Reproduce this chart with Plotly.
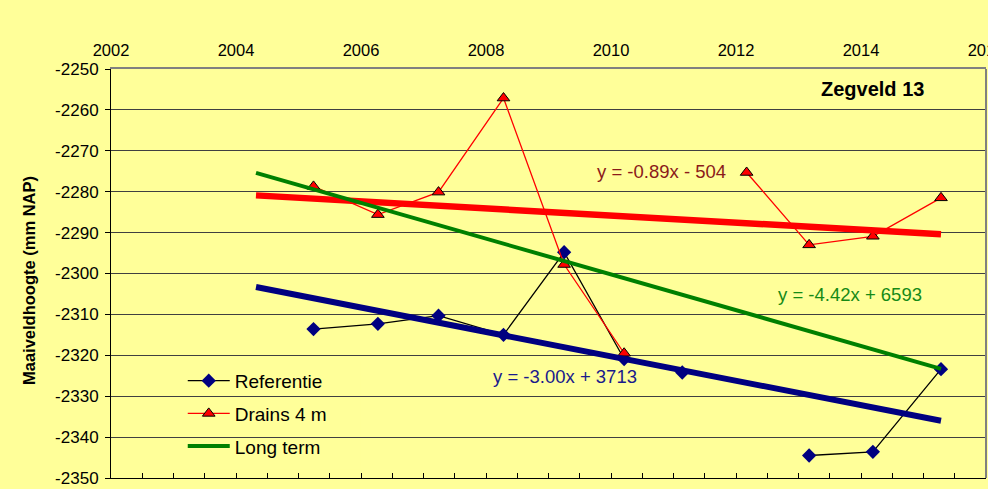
import plotly.graph_objects as go

# ---- data ----
years = [2005.24, 2006.27, 2007.24, 2008.28, 2009.25, 2010.21, 2011.14, 2012.17, 2013.17, 2014.19, 2015.28]
referentie = [-2313.6, -2312.3, -2310.3, -2315.0, -2294.8, -2320.9, -2324.2, None, -2344.5, -2343.6, -2323.4]
drains = [-2278.7, -2285.6, -2280.1, -2257.1, -2297.8, -2319.5, None, -2275.3, -2293.0, -2290.9, -2281.5]

trend_x = [2004.32, 2015.28]
ref_trend = [-2303.3, -2336.0]
drains_trend = [-2280.9, -2290.4]
long_term = [-2275.4, -2323.3]

y_ticks = [-2350, -2340, -2330, -2320, -2310, -2300, -2290, -2280, -2270, -2260, -2250]
y_ticklabels = ["-2350", "-2340", "-2330", "-2320", "-2310", "-2300", "-2290", "-2280", "-2270", "-2260", "-2250"]
x_ticks = [2002, 2004, 2006, 2008, 2010, 2012, 2014, 2016]
x_ticklabels = ["2002", "2004", "2006", "2008", "2010", "2012", "2014", "2016"]

eq_drains = "y = -0.89x - 504"
eq_long = "y = -4.42x + 6593"
eq_ref = "y = -3.00x + 3713"
title_text = "Zegveld 13"
y_title = "Maaiveldhoogte (mm NAP)"

BG = "#FFFF99"
FONT = "Arial, Liberation Sans, sans-serif"

fig = go.Figure()

fig.add_trace(go.Scatter(x=trend_x, y=ref_trend, mode="lines", xaxis="x2",
                         line=dict(color="#000080", width=6), showlegend=False))
fig.add_trace(go.Scatter(x=trend_x, y=drains_trend, mode="lines", xaxis="x2",
                         line=dict(color="#FF0000", width=6.5), showlegend=False))
fig.add_trace(go.Scatter(x=years, y=referentie, mode="lines+markers", name="Referentie",
                         legendgroup="a", legendrank=1,
                         line=dict(color="black", width=1.3),
                         marker=dict(symbol="diamond", size=11, color="#000080",
                                     line=dict(width=0))))
fig.add_trace(go.Scatter(x=years, y=drains, mode="lines+markers", name="Drains 4 m",
                         legendgroup="b", legendrank=2,
                         line=dict(color="#FF0000", width=1.3),
                         marker=dict(symbol="triangle-up", size=11, color="#FF0000",
                                     line=dict(width=1, color="black"))))
fig.add_trace(go.Scatter(x=trend_x, y=long_term, mode="lines", name="Long term", xaxis="x2",
                         legendgroup="c", legendrank=3,
                         line=dict(color="#008000", width=4)))

annotations = [
    dict(x=2014.19, y=-2254.9, text="<b>" + title_text + "</b>", showarrow=False,
         font=dict(size=20, color="black", family=FONT), xref="x", yref="y"),
    dict(x=2010.8, y=-2275.0, text=eq_drains, showarrow=False,
         font=dict(size=18.5, color="#8B1A1A", family=FONT), xref="x", yref="y"),
    dict(x=2013.82, y=-2305.2, text=eq_long, showarrow=False,
         font=dict(size=18.5, color="#168A16", family=FONT), xref="x", yref="y"),
    dict(x=2009.26, y=-2325.3, text=eq_ref, showarrow=False,
         font=dict(size=18.5, color="#1A1A8C", family=FONT), xref="x", yref="y"),
    dict(x=-0.0937, y=0.4817, xref="paper", yref="paper", text="<b>" + y_title + "</b>",
         xanchor="center", yanchor="middle",
         textangle=-90, showarrow=False, font=dict(size=16.5, color="black", family=FONT)),
]

fig.update_layout(
    width=988, height=489,
    margin=dict(l=111, r=2, t=69, b=11, autoexpand=False),
    paper_bgcolor=BG, plot_bgcolor=BG,
    font=dict(family=FONT, color="black", size=16),
    xaxis=dict(range=[2002, 2016], showgrid=False, zeroline=False, automargin=False,
               showline=True, linecolor="black", linewidth=1,
               ticks="inside", tick0=2002, dtick=0.5, ticklen=5, tickcolor="black",
               showticklabels=False),
    xaxis2=dict(range=[2002, 2016], overlaying="x", side="top", anchor="y", automargin=False,
                showgrid=False, zeroline=False, showline=True, linecolor="#808080",
                linewidth=2, ticks="", tickmode="array", tickvals=x_ticks, ticktext=x_ticklabels,
                tickfont=dict(size=16.5, family=FONT, color="black"),
                ticklabelstandoff=4, ticklabeloverflow="allow"),
    yaxis=dict(range=[-2350, -2250], tickmode="array", tickvals=y_ticks, ticktext=y_ticklabels,
               showgrid=True, gridcolor="#404040", automargin=False,
               gridwidth=1, zeroline=False, showline=True, linecolor="black", linewidth=1,
               ticks="outside", ticklen=5, tickcolor="black", ticklabelstandoff=3,
               tickfont=dict(size=17, family=FONT, color="black")),
    legend=dict(x=0.082, y=0.284, xanchor="left", yanchor="top",
                bgcolor="rgba(0,0,0,0)", borderwidth=0,
                font=dict(size=19, family=FONT, color="black"),
                traceorder="grouped", tracegroupgap=5, itemwidth=42),
    shapes=[
        dict(type="rect", xref="paper", yref="paper", x0=0.048, x1=0.2857, y0=0.02, y1=0.286,
             fillcolor=BG, line=dict(width=0), layer="between"),
        dict(type="line", xref="paper", yref="paper", x0=1, x1=1, y0=0, y1=1,
             line=dict(color="#808080", width=2)),
    ],
    annotations=annotations,
    showlegend=True,
    hovermode=False,
)

fig.write_html("out.html", config={"displayModeBar": False})
